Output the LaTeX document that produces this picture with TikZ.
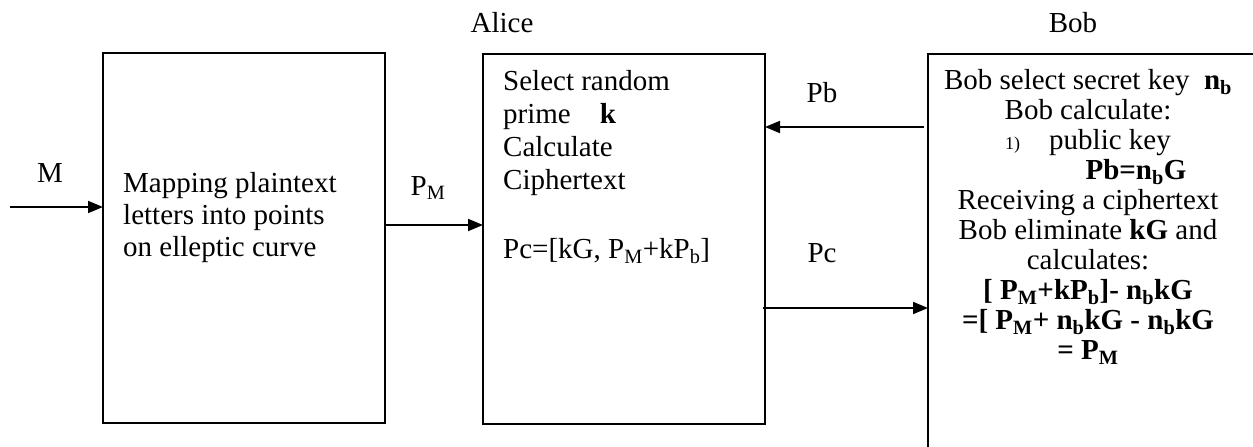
\documentclass[tikz,border=0pt]{standalone}
\usepackage{fontspec}
\setmainfont{Liberation Serif}
\usetikzlibrary{arrows.meta,positioning}
\tikzset{font=\fontsize{29}{32}\selectfont}
\tikzset{blk/.style={draw,line width=1.8pt,inner sep=0pt,outer sep=0pt,anchor=north west}}
\tikzset{txt/.style={inner sep=0pt,align=left,anchor=north west}}
\tikzset{flow/.style={line width=1.8pt,-{Triangle[length=15pt,width=12pt]}}}

\begin{document}
\begin{tikzpicture}[x=1pt,y=-1pt]
\useasboundingbox (0,0) rectangle (1253,447);
% the three blocks
\node[blk,minimum width=282pt,minimum height=370pt] (map) at (103,53) {};
\node[blk,minimum width=282pt,minimum height=370pt] (alice) at (483,54) {};
\node[blk,minimum width=360pt,minimum height=420pt] (bob) at (928,54) {};
\node[txt] (maptxt) at (123,172) {Mapping plaintext\\letters into points\\on elleptic curve};
\node[txt,font=\fontsize{29}{33}\selectfont] (alicetxt) at (503,70)
 {Select random\\prime\quad\textbf{k}\\Calculate\\Ciphertext\\[36pt]Pc=[kG, P\textsubscript{M}+kP\textsubscript{b}]};
\node[txt,align=center,anchor=north,font=\fontsize{29}{30}\selectfont] (bobtxt) at (1088,69)
 {Bob select secret key\ \ \textbf{n\textsubscript{b}}\\
  Bob calculate:\\
  {\fontsize{18}{18}\selectfont 1)}\quad public key\\
  \hspace*{96pt}\textbf{Pb=n\textsubscript{b}G}\\
  Receiving a ciphertext\\
  Bob eliminate \textbf{kG} and\\
  calculates:\\
  \textbf{[ P\textsubscript{M}+kP\textsubscript{b}]- n\textsubscript{b}kG}\\
  \textbf{=[ P\textsubscript{M}+ n\textsubscript{b}kG - n\textsubscript{b}kG}\\
  \textbf{= P\textsubscript{M}}};
% labels
\node (alicelbl) at (502,23) {Alice};
\node (boblbl) at (1073,23) {Bob};
\node (mlbl) at (50,173) {M};
\node (pmlbl) at (428,188) {P\textsubscript{M}};
\node (pblbl) at (822,93) {Pb};
\node (pclbl) at (822,253) {Pc};
% connectors
\coordinate (m) at (10,207);
\coordinate (pm) at (0,225);
\coordinate (pb) at (0,127);
\coordinate (pc) at (0,308);
\draw[flow] (m) -- (map.west |- m);
\draw[flow] (map.east |- pm) -- (alice.west |- pm);
\draw[flow] ([xshift=-4pt]bob.west |- pb) -- (alice.east |- pb);
\draw[flow] ([xshift=-2pt]alice.east |- pc) -- (bob.west |- pc);
\end{tikzpicture}
\end{document}
